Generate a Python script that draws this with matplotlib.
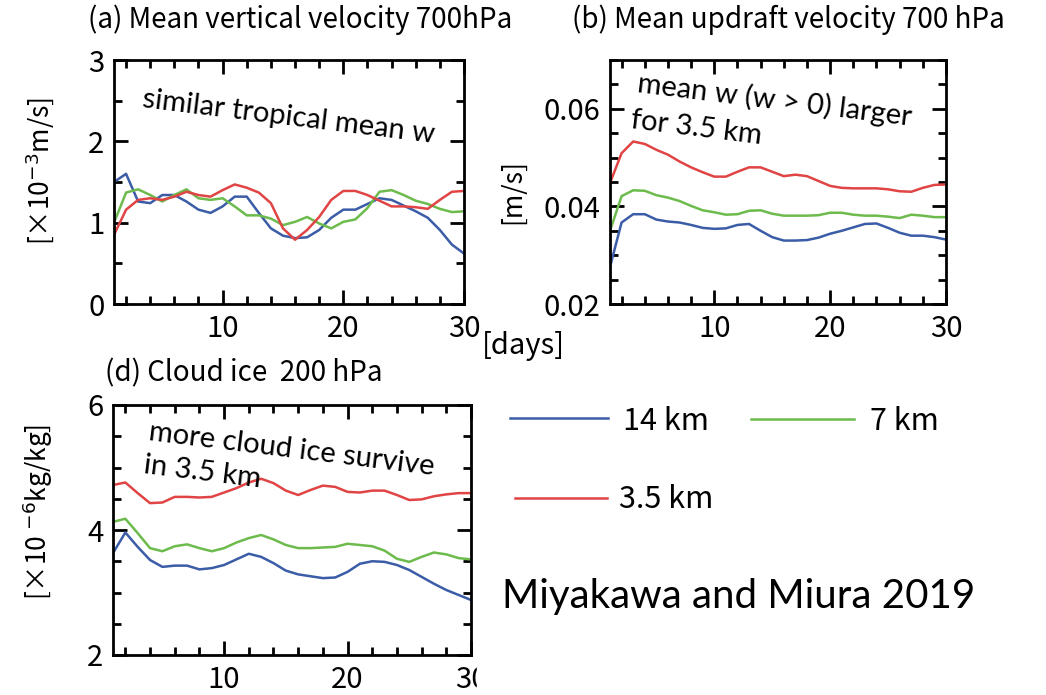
import numpy as np
import matplotlib
matplotlib.use('Agg')
import matplotlib.pyplot as plt
from matplotlib.ticker import MultipleLocator
from matplotlib.lines import Line2D
from matplotlib.patches import Rectangle

# days 1..30
days = np.arange(1, 31)

# (a) mean vertical velocity 700 hPa [x10^-3 m/s]
a_14km = [1.50, 1.60, 1.26, 1.24, 1.34, 1.34, 1.26, 1.16, 1.12, 1.20,
          1.32, 1.32, 1.12, 0.93, 0.84, 0.81, 0.82, 0.91, 1.06, 1.16,
          1.16, 1.23, 1.30, 1.28, 1.21, 1.14, 1.06, 0.91, 0.73, 0.62]
a_7km = [1.00, 1.37, 1.41, 1.34, 1.26, 1.34, 1.41, 1.30, 1.28, 1.30,
         1.20, 1.09, 1.09, 1.05, 0.97, 1.01, 1.07, 0.99, 0.93, 1.01,
         1.04, 1.18, 1.38, 1.40, 1.34, 1.27, 1.23, 1.17, 1.13, 1.14]
a_35km = [0.85, 1.16, 1.28, 1.30, 1.28, 1.32, 1.38, 1.34, 1.32, 1.40,
          1.47, 1.43, 1.37, 1.24, 0.93, 0.79, 0.91, 1.07, 1.28, 1.39,
          1.39, 1.34, 1.27, 1.20, 1.20, 1.19, 1.17, 1.28, 1.38, 1.39]

# (b) mean updraft velocity 700 hPa [m/s]
b_14km = [0.0276, 0.0367, 0.0384, 0.0384, 0.0373, 0.0369, 0.0367, 0.0362, 0.0356, 0.0354,
          0.0355, 0.0362, 0.0364, 0.0350, 0.0337, 0.0330, 0.0330, 0.0331, 0.0336, 0.0344,
          0.0350, 0.0357, 0.0364, 0.0365, 0.0356, 0.0346, 0.0340, 0.0340, 0.0337, 0.0332]
b_7km = [0.0350, 0.0421, 0.0433, 0.0432, 0.0423, 0.0418, 0.0411, 0.0401, 0.0392, 0.0388,
         0.0383, 0.0384, 0.0391, 0.0392, 0.0385, 0.0381, 0.0381, 0.0381, 0.0382, 0.0387,
         0.0387, 0.0383, 0.0381, 0.0381, 0.0379, 0.0376, 0.0383, 0.0381, 0.0378, 0.0378]
b_35km = [0.0448, 0.0509, 0.0533, 0.0528, 0.0516, 0.0506, 0.0492, 0.0480, 0.0470, 0.0461,
          0.0461, 0.0471, 0.0480, 0.0480, 0.0471, 0.0462, 0.0465, 0.0462, 0.0452, 0.0442,
          0.0438, 0.0437, 0.0437, 0.0437, 0.0435, 0.0431, 0.0430, 0.0438, 0.0444, 0.0445]

# (d) cloud ice 200 hPa [x10^-6 kg/kg]
d_14km = [3.63, 3.96, 3.73, 3.52, 3.41, 3.43, 3.43, 3.37, 3.39, 3.44,
          3.53, 3.62, 3.57, 3.47, 3.35, 3.29, 3.26, 3.23, 3.24, 3.33,
          3.46, 3.50, 3.49, 3.44, 3.36, 3.25, 3.14, 3.04, 2.96, 2.88]
d_7km = [4.13, 4.18, 3.95, 3.71, 3.66, 3.74, 3.77, 3.71, 3.66, 3.71,
         3.80, 3.87, 3.92, 3.85, 3.76, 3.71, 3.71, 3.72, 3.73, 3.78,
         3.76, 3.74, 3.67, 3.54, 3.49, 3.57, 3.64, 3.61, 3.55, 3.53]
d_35km = [4.72, 4.76, 4.59, 4.43, 4.44, 4.53, 4.53, 4.52, 4.53, 4.60,
          4.67, 4.76, 4.82, 4.75, 4.63, 4.56, 4.64, 4.71, 4.69, 4.61,
          4.60, 4.63, 4.63, 4.56, 4.48, 4.49, 4.54, 4.57, 4.59, 4.59]

labels = ['14 km', '7 km', '3.5 km']
colors = ['#3b5ca6', '#6cbb4c', '#e04444']

W, H = 1046, 695
plt.rcParams['font.family'] = ['Noto Sans CJK JP', 'DejaVu Sans']
fig = plt.figure(figsize=(W / 100, H / 100), dpi=100)


def px(x0, y0, x1, y1):
    # pixel box -> figure rect
    return [x0 / W, 1 - y1 / H, (x1 - x0) / W, (y1 - y0) / H]


def style(ax, ylim, ymaj, ymin, ytl):
    ax.set_xlim(1, 30)
    ax.set_ylim(*ylim)
    ax.xaxis.set_major_locator(MultipleLocator(10))
    ax.xaxis.set_minor_locator(MultipleLocator(2))
    ax.yaxis.set_major_locator(MultipleLocator(ymaj))
    ax.yaxis.set_minor_locator(MultipleLocator(ymin))
    ax.tick_params(which='both', direction='in', top=True, right=True,
                   labelsize=21, pad=7, width=2)
    ax.tick_params(which='major', length=10)
    ax.tick_params(which='minor', length=6)
    for s in ax.spines.values():
        s.set_linewidth(2)
    ax.set_yticks(ytl)


ax_a = fig.add_axes(px(114, 60, 464, 304))
ax_b = fig.add_axes(px(610, 60, 946, 304))
ax_d = fig.add_axes(px(113, 405, 471, 655))

for ax, series in [(ax_a, [a_14km, a_7km, a_35km]),
                   (ax_b, [b_14km, b_7km, b_35km]),
                   (ax_d, [d_14km, d_7km, d_35km])]:
    for vals, c in zip(series, colors):
        ax.plot(days, vals, color=c, lw=1.8)

style(ax_a, (0, 3), 1, 0.5, [0, 1, 2, 3])
style(ax_b, (0.02, 0.07), 0.02, 0.005, [0.02, 0.04, 0.06])
ax_b.set_yticklabels(['0.02', '0.04', '0.06'])
style(ax_d, (2, 6), 2, 0.5, [2, 4, 6])

# y labels
yl = dict(fontsize=19, rotation=90, ha='center', va='center')
fig.text(40 / W, 1 - 171 / H, '[×10$^{-3}$m/s]', **yl)
fig.text(513 / W, 1 - 192 / H, '[m/s]', **yl)
fig.text(38 / W, 1 - 512 / H, '[×10 $^{-6}$kg/kg]', **yl)

# panel titles
fig.text(300 / W, 1 - 20 / H, '(a) Mean vertical velocity 700hPa', fontsize=20,
         ha='center', va='center')
fig.text(788 / W, 1 - 20 / H, '(b) Mean updraft velocity 700 hPa', fontsize=20,
         ha='center', va='center')
fig.text(244 / W, 1 - 373 / H, '(d) Cloud ice  200 hPa', fontsize=20,
         ha='center', va='center')
fig.text(482 / W, 1 - 354 / H, '[days]', fontsize=21, ha='left', va='baseline')

# annotations
ann = dict(fontsize=21, family='Lato', rotation=-7, rotation_mode='anchor',
           ha='left', va='baseline')
fig.text(142 / W, 1 - 107 / H, 'similar tropical mean w', **ann)
fig.text(637 / W, 1 - 92 / H, 'mean w (w > 0) larger', **ann)
fig.text(630 / W, 1 - 128 / H, 'for 3.5 km', **ann)
fig.text(148 / W, 1 - 440 / H, 'more cloud ice survive', **ann)
fig.text(143 / W, 1 - 473 / H, 'in 3.5 km', **ann)

# legend drawn by hand
leg = [(510, 608, 418, 623, 430), (751, 854, 419, 870, 430), (515, 607, 498, 619, 508)]
for (x0, x1, ly, tx, ty), lab, c in zip(leg, labels, colors):
    fig.add_artist(Line2D([x0 / W, x1 / W], [1 - ly / H, 1 - ly / H], color=c, lw=1.8))
    fig.text(tx / W, 1 - ty / H, lab, fontsize=22, ha='left', va='baseline')

fig.text(502 / W, 1 - 608 / H, 'Miyakawa and Miura 2019', fontsize=29,
         family='Lato', ha='left', va='baseline')

# the source image is cropped right of panel (d)
fig.add_artist(Rectangle((477 / W, 0), 20 / W, 35 / H, color='white', zorder=10))

fig.savefig('out.png', dpi=100)
